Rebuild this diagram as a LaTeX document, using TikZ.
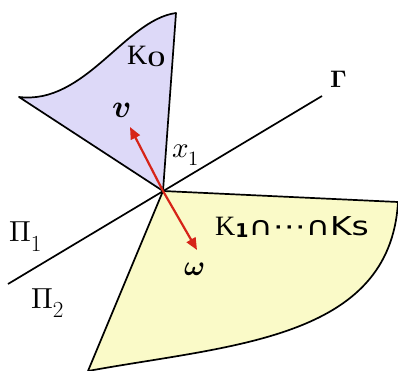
\documentclass[tikz,border=0pt]{standalone}
\usepackage{amsmath}
\usepackage{fontspec}
\usepackage{unicode-math}
\usepackage{graphicx}
\setmathfont{Latin Modern Math}
\usetikzlibrary{arrows.meta}
\newfontfamily\serifK{Liberation Serif}
\newfontfamily\dejavu{DejaVu Sans}
\definecolor{lav}{RGB}{221,217,248}
\definecolor{pale}{RGB}{250,250,200}
\definecolor{arr}{RGB}{214,36,24}
\tikzset{
  edge/.style={line width=1.7pt, line join=round},
  redarrow/.style={arr, line width=2.2pt, -{Triangle[length=12pt,width=10pt]}},
  lbl/.style={inner sep=0pt, anchor=base west}
}
\begin{document}
\begin{tikzpicture}[x=1pt,y=-1pt]
\useasboundingbox (0,0) rectangle (398,371);
\coordinate (O) at (163,191);
\coordinate (KL) at (19,97);
\coordinate (KT) at (176,13);
\coordinate (YR) at (398,202);
\coordinate (YB) at (88,371);
\coordinate (G1) at (8,284);
\coordinate (G2) at (322,96);
\coordinate (vt) at (130,127);
\coordinate (wt) at (197,250);
% regions
\fill[lav] (O) -- (KL) .. controls (85,105) and (125,20) .. (KT) -- cycle;
\fill[pale] (O) -- (YR) .. controls (390,340) and (230,345) .. (YB) -- cycle;
% line Gamma
\draw[edge] (G1) -- (G2);
% edges
\draw[edge] (O) -- (KL) .. controls (85,105) and (125,20) .. (KT) -- (O);
\draw[edge] (YR) -- (O) -- (YB);
\draw[edge] (YR) .. controls (390,340) and (230,345) .. (YB);
% arrows
\draw[redarrow] (O) -- (vt);
\draw[redarrow] (O) -- (wt);
% labels
\node[lbl] (k0) at (127,65) {\fontsize{28}{28}\selectfont\serifK K\raisebox{-1.5pt}{\scalebox{1.3}[0.78]{0}}};
\node[lbl] (v) at (112,118) {\fontsize{32}{32}\selectfont$\symbfit{v}$};
\node[lbl] (x1) at (172,158) {\fontsize{29}{29}\selectfont$x_1$};
\node[lbl] (gam) at (330,88) {\fontsize{24}{24}\selectfont$\symbfup{\Gamma}$};
\node[lbl] (p1) at (9,241) {\fontsize{29}{29}\selectfont$\Pi$\raisebox{-10pt}{\fontsize{23}{23}\selectfont 1}};
\node[lbl] (p2) at (31,308) {\fontsize{29}{29}\selectfont$\Pi$\raisebox{-9pt}{\fontsize{23}{23}\selectfont 2}};
\node[lbl] (w) at (184,275) {\fontsize{28}{28}\selectfont$\symbfit{\omega}$};
\node[lbl] (ks) at (215,235) {\fontsize{28}{28}\selectfont{\serifK K}\raisebox{-2pt}{\dejavu\bfseries\fontsize{19}{19}\selectfont 1}\scalebox{1.27}[1]{\dejavu\fontsize{26}{26}\selectfont ∩⋯∩Ks}};
\end{tikzpicture}
\end{document}
